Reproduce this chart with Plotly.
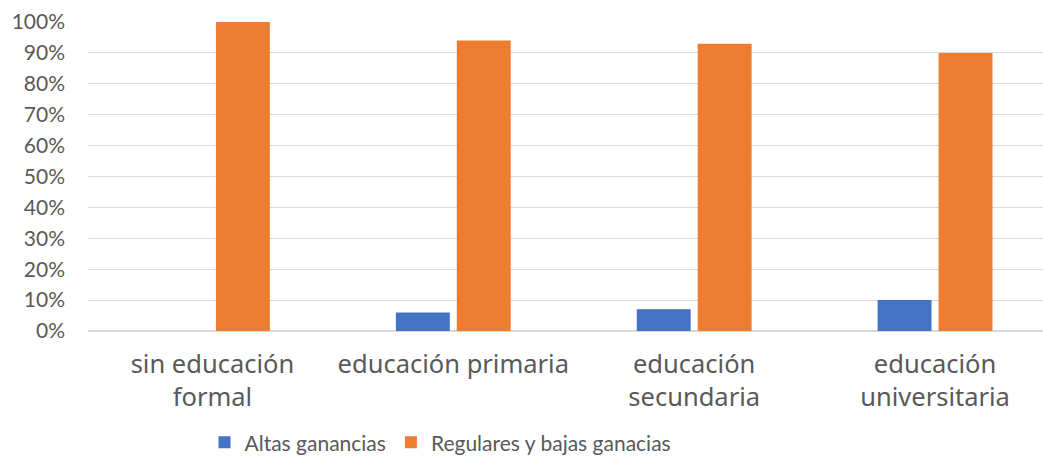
import plotly.graph_objects as go

categories = ["sin educación<br>formal", "educación primaria", "educación<br>secundaria", "educación<br>universitaria"]
altas = [0, 6, 7, 10]
regulares = [100, 94, 93, 90]
series_names = ["Altas ganancias", "Regulares y bajas ganacias"]
y_ticks = [0, 10, 20, 30, 40, 50, 60, 70, 80, 90, 100]

x = list(range(len(categories)))
FONT = "Lato"
CAT_FONT = "Noto Sans"
GRAY = "#595959"

fig = go.Figure()
fig.add_trace(go.Bar(x=x, y=altas, name=series_names[0], marker=dict(color="#4472C4", line=dict(width=0))))
fig.add_trace(go.Bar(x=x, y=regulares, name=series_names[1], marker=dict(color="#ED7D31", line=dict(width=0))))

shift = 4 / 241
fig.update_layout(
    width=1043, height=459,
    margin=dict(l=87.5, r=0, t=22, b=128, autoexpand=False),
    paper_bgcolor="white", plot_bgcolor="white",
    barmode="group", bargap=0.494, bargroupgap=0.115,
    font=dict(family=FONT, size=21, color=GRAY),
    showlegend=True,
    legend=dict(orientation="h", x=0.122, xanchor="left", y=-0.295, yanchor="top",
                font=dict(family=FONT, size=21, color=GRAY), itemwidth=30,
                traceorder="normal", itemsizing="constant"),
    xaxis=dict(range=[-0.5 - shift, 3.5 - 8.5 / 241 - shift], tickvals=x, ticktext=categories,
               showgrid=False, zeroline=False, showline=False, ticks="",
               automargin=False, ticklabelstandoff=15,
               tickfont=dict(family=CAT_FONT, size=25.5, color=GRAY)),
    yaxis=dict(range=[0, 100], tickvals=y_ticks, ticktext=[f"{v}%" for v in y_ticks],
               showgrid=True, gridcolor="#D9D9D9", gridwidth=1.3,
               zeroline=True, zerolinecolor="#D9D9D9", zerolinewidth=1.5,
               showline=False, ticks="", ticklabelstandoff=22, automargin=False,
               tickfont=dict(family=FONT, size=21, color=GRAY)),
)

fig.write_html("out.html", config={"displayModeBar": False},
               post_script="document.body.style.margin='0';")
